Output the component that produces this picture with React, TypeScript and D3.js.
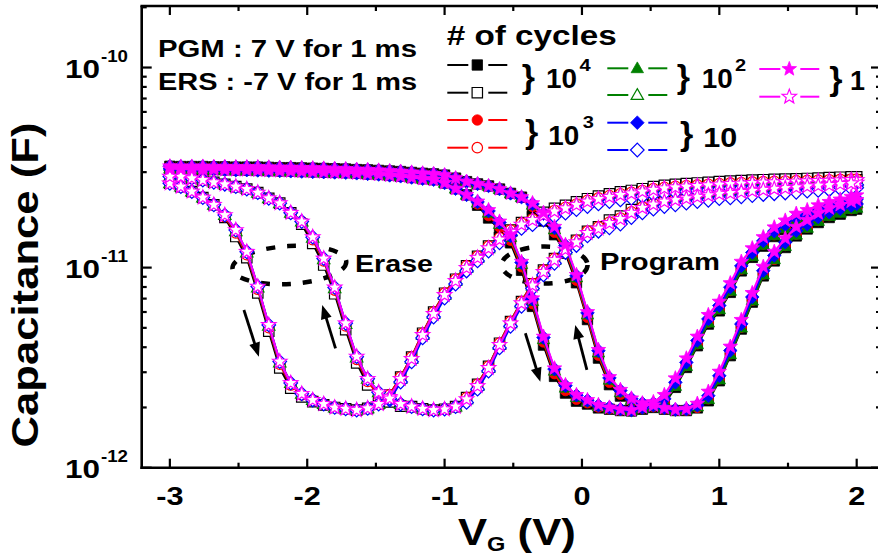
import React from 'react';
import * as d3 from 'd3';

// Gate voltage sweep grid (V)
const VG = [-3, -2.92, -2.84, -2.76, -2.68, -2.6, -2.52, -2.44, -2.36, -2.28, -2.2, -2.12, -2.04, -1.96, -1.88, -1.8,
  -1.72, -1.64, -1.56, -1.48, -1.4, -1.32, -1.24, -1.16, -1.08, -1, -0.92, -0.84, -0.76, -0.68, -0.6, -0.52,
  -0.44, -0.36, -0.28, -0.2, -0.12, -0.04, 0.04, 0.12, 0.2, 0.28, 0.36, 0.44, 0.52, 0.6, 0.68, 0.76,
  0.84, 0.92, 1, 1.08, 1.16, 1.24, 1.32, 1.4, 1.48, 1.56, 1.64, 1.72, 1.8, 1.88, 1.96, 2];

// Capacitance values in pF (1 pF = 1e-12 F)
// Program state (filled symbols): forward sweep (-3 -> 2) and reverse sweep (2 -> -3, stored on the same VG grid)
const PGM_FWD_1E4 = [31.2, 31.1, 31.0, 30.9, 30.9, 30.8, 30.7, 30.7, 30.6, 30.5, 30.4, 30.3, 30.2, 30.1, 30.0, 29.9, 29.8, 29.6, 29.4, 29.2, 28.9, 28.6, 28.2, 27.8, 27.5, 26.5, 24.8, 23.1,
  20.5, 17.7, 15.5, 13.3, 9.7, 6.4, 4.1, 2.86, 2.36, 2.15, 2.08, 1.99, 1.96, 1.93, 1.92, 1.96, 2.02, 2.08, 2.52, 3.17, 4.07, 5.22, 6.08, 7.52, 9.63, 11.25, 12.8, 14.3, 15.5, 16.7, 17.5, 18.5, 19.2, 19.7, 20.3, 20.7];
const PGM_FWD_1E3 = [31.2, 31.1, 31.0, 30.9, 30.9, 30.8, 30.7, 30.7, 30.6, 30.5, 30.4, 30.3, 30.2, 30.1, 30.0, 29.9, 29.8, 29.6, 29.4, 29.2, 28.9, 28.6, 28.2, 27.8, 27.5, 26.5, 24.8, 23.1,
  20.8, 18.2, 16.0, 13.7, 10.1, 6.6, 4.25, 2.95, 2.43, 2.2, 2.11, 2.01, 1.97, 1.94, 1.93, 1.98, 2.05, 2.13, 2.58, 3.24, 4.16, 5.34, 6.22, 7.69, 9.84, 11.5, 13.1, 14.6, 15.8, 17.1, 17.8, 18.9, 19.6, 20.1, 20.8, 21.2];
const PGM_FWD_1E2 = [31.2, 31.1, 31.0, 30.9, 30.9, 30.8, 30.7, 30.7, 30.6, 30.5, 30.4, 30.3, 30.2, 30.1, 30.0, 29.9, 29.8, 29.6, 29.4, 29.2, 28.9, 28.6, 28.2, 27.8, 27.5, 26.5, 24.8, 23.1,
  21.1, 18.8, 16.5, 14.2, 10.4, 6.8, 4.38, 3.05, 2.51, 2.25, 2.14, 2.03, 1.98, 1.95, 1.93, 1.98, 2.06, 2.12, 2.56, 3.22, 4.14, 5.31, 6.19, 7.65, 9.79, 11.4, 13.0, 14.5, 15.7, 17.0, 17.8, 18.8, 19.5, 20.0, 20.7, 21.0];
const PGM_FWD_10 = [31.2, 31.1, 31.0, 30.9, 30.9, 30.8, 30.7, 30.7, 30.6, 30.5, 30.4, 30.3, 30.2, 30.1, 30.0, 29.9, 29.8, 29.6, 29.4, 29.2, 28.9, 28.6, 28.2, 27.8, 27.5, 26.5, 24.8, 23.1,
  21.3, 19.2, 16.8, 14.5, 10.6, 6.96, 4.47, 3.11, 2.57, 2.30, 2.17, 2.05, 2.0, 1.96, 1.94, 2.0, 2.1, 2.21, 2.67, 3.36, 4.32, 5.54, 6.46, 7.98, 10.2, 11.9, 13.6, 15.2, 16.4, 17.8, 18.5, 19.6, 20.3, 20.9, 21.6, 22.0];
const PGM_FWD_1 = [31.2, 31.1, 31.0, 30.9, 30.9, 30.8, 30.7, 30.7, 30.6, 30.5, 30.4, 30.3, 30.2, 30.1, 30.0, 29.9, 29.8, 29.6, 29.4, 29.2, 28.9, 28.6, 28.2, 27.8, 27.5, 26.5, 24.8, 23.1,
  21.4, 19.4, 17.0, 14.6, 10.7, 7.03, 4.52, 3.14, 2.59, 2.31, 2.18, 2.06, 2.0, 1.96, 1.94, 2.01, 2.13, 2.31, 2.8, 3.52, 4.52, 5.8, 6.76, 8.36, 10.7, 12.5, 14.2, 15.9, 17.2, 18.6, 19.4, 20.5, 21.3, 21.9, 22.6, 23.0];

const PGM_REV_1E4 = [32.1, 32.0, 32.0, 32.0, 31.9, 31.9, 31.8, 31.8, 31.8, 31.7, 31.6, 31.6, 31.5, 31.4, 31.3, 31.2, 31.1, 30.9, 30.8, 30.6, 30.4, 30.2, 29.9, 29.6, 29.4, 29.0, 28.0, 26.9, 26.2, 25.6, 24.7, 23.5, 22.5,
  19.5, 17.1, 14.6, 11.8, 8.4, 5.5, 3.53, 2.6, 2.28, 2.12, 2.04, 2.0, 1.96, 1.93, 1.93, 1.99, 2.16, 2.72, 3.63, 4.93, 6.72, 9.09, 10.8, 12.6, 14.4, 15.6, 16.8, 17.8, 18.5, 19.3, 19.6];
const PGM_REV_1E3 = [32.1, 32.0, 32.0, 32.0, 31.9, 31.9, 31.8, 31.8, 31.8, 31.7, 31.6, 31.6, 31.5, 31.4, 31.3, 31.2, 31.1, 30.9, 30.8, 30.6, 30.4, 30.2, 29.9, 29.6, 29.4, 29.0, 28.0, 26.9, 26.2, 25.6, 24.7, 23.5, 22.5,
  20.2, 17.7, 15.0, 12.2, 8.65, 5.64, 3.65, 2.67, 2.33, 2.15, 2.06, 2.02, 1.97, 1.94, 1.94, 2.0, 2.21, 2.78, 3.71, 5.04, 6.87, 9.29, 11.0, 12.9, 14.7, 15.9, 17.2, 18.2, 19.0, 19.7, 20.1];
const PGM_REV_1E2 = [32.1, 32.0, 32.0, 32.0, 31.9, 31.9, 31.8, 31.8, 31.8, 31.7, 31.6, 31.6, 31.5, 31.4, 31.3, 31.2, 31.1, 30.9, 30.8, 30.6, 30.4, 30.2, 29.9, 29.6, 29.4, 29.0, 28.0, 26.9, 26.2, 25.6, 24.7, 23.5, 22.5,
  20.6, 18.2, 15.5, 12.6, 8.92, 5.82, 3.76, 2.75, 2.38, 2.18, 2.08, 2.03, 1.98, 1.94, 1.95, 2.02, 2.2, 2.76, 3.69, 5.01, 6.84, 9.24, 11.0, 12.8, 14.6, 15.8, 17.1, 18.1, 18.8, 19.6, 19.9];
const PGM_REV_10 = [32.1, 32.0, 32.0, 32.0, 31.9, 31.9, 31.8, 31.8, 31.8, 31.7, 31.6, 31.6, 31.5, 31.4, 31.3, 31.2, 31.1, 30.9, 30.8, 30.6, 30.4, 30.2, 29.9, 29.6, 29.4, 29.0, 28.0, 26.9, 26.2, 25.6, 24.7, 23.5, 22.5,
  20.8, 18.6, 15.8, 12.9, 9.1, 5.94, 3.84, 2.81, 2.43, 2.21, 2.1, 2.05, 1.99, 1.95, 1.96, 2.05, 2.29, 2.88, 3.85, 5.23, 7.13, 9.65, 11.5, 13.4, 15.3, 16.5, 17.9, 18.9, 19.7, 20.4, 20.8];
const PGM_REV_1 = [32.1, 32.0, 32.0, 32.0, 31.9, 31.9, 31.8, 31.8, 31.8, 31.7, 31.6, 31.6, 31.5, 31.4, 31.3, 31.2, 31.1, 30.9, 30.8, 30.6, 30.4, 30.2, 29.9, 29.6, 29.4, 29.0, 28.0, 26.9, 26.2, 25.6, 24.7, 23.5, 22.5,
  21.0, 18.8, 16.0, 13.0, 9.2, 6.0, 3.88, 2.84, 2.45, 2.22, 2.10, 2.05, 1.99, 1.95, 1.97, 2.09, 2.4, 3.02, 4.03, 5.48, 7.47, 10.1, 12.0, 14.0, 16.0, 17.3, 18.7, 19.8, 20.6, 21.4, 21.8];

// Erase state (open symbols)
const ERS_FWD_1E4 = [26.4, 25.4, 24.0, 22.4, 20.6, 17.8, 14.3, 11.2, 7.48, 4.81, 3.15, 2.5, 2.26, 2.14, 2.06, 2.0, 1.97, 1.94, 1.98, 2.08,
  2.31, 2.84, 3.57, 4.7, 5.99, 7.45, 8.75, 10.2, 11.4, 12.8, 14.1, 15.4, 16.8, 17.9, 18.9, 19.8, 20.5, 21.3, 22.1, 22.8, 23.4, 23.9, 24.3, 24.8, 25.4, 25.8, 26.1, 26.3, 26.5, 26.7, 26.9, 27.1, 27.2, 27.4, 27.5, 27.6, 27.7, 27.8, 27.9, 28.0, 28.2, 28.3, 28.4, 28.4];
const ERS_FWD_1E3 = [26.4, 25.4, 24.0, 22.4, 20.6, 18.0, 14.9, 11.6, 7.8, 5.01, 3.29, 2.59, 2.31, 2.18, 2.08, 2.0, 1.97, 1.94, 1.98, 2.08,
  2.31, 2.84, 3.57, 4.7, 5.99, 7.45, 8.75, 10.2, 11.4, 12.8, 14.1, 15.4, 16.7, 17.5, 18.5, 19.3, 20.0, 20.8, 21.7, 22.3, 22.9, 23.4, 23.8, 24.3, 24.8, 25.2, 25.5, 25.7, 25.9, 26.1, 26.3, 26.5, 26.6, 26.8, 26.9, 27.0, 27.1, 27.2, 27.3, 27.4, 27.5, 27.6, 27.7, 27.7];
const ERS_FWD_1E2 = [26.4, 25.4, 24.0, 22.4, 20.6, 18.3, 15.2, 11.9, 7.96, 5.12, 3.36, 2.65, 2.34, 2.18, 2.08, 2.0, 1.97, 1.94, 1.98, 2.08,
  2.26, 2.78, 3.5, 4.61, 5.87, 7.3, 8.58, 9.97, 11.2, 12.5, 13.8, 15.1, 16.4, 17.3, 18.3, 19.1, 19.8, 20.6, 21.4, 22.0, 22.6, 23.1, 23.5, 24.0, 24.5, 24.9, 25.2, 25.4, 25.6, 25.8, 26.0, 26.2, 26.3, 26.5, 26.6, 26.7, 26.8, 26.9, 27.0, 27.1, 27.2, 27.3, 27.4, 27.4];
const ERS_FWD_10 = [26.4, 25.4, 24.0, 22.4, 20.6, 18.3, 15.4, 12.0, 8.04, 5.17, 3.39, 2.65, 2.34, 2.18, 2.08, 2.0, 1.97, 1.94, 1.98, 2.08,
  2.18, 2.68, 3.38, 4.45, 5.66, 7.04, 8.28, 9.62, 10.8, 12.1, 13.3, 14.5, 15.7, 16.4, 17.3, 18.0, 18.7, 19.5, 20.2, 20.8, 21.4, 21.8, 22.2, 22.7, 23.2, 23.5, 23.8, 24.0, 24.2, 24.4, 24.6, 24.8, 24.9, 25.0, 25.1, 25.2, 25.3, 25.4, 25.5, 25.6, 25.7, 25.8, 25.9, 25.9];
const ERS_FWD_1 = [26.4, 25.4, 24.0, 22.4, 20.6, 18.3, 15.4, 12.0, 8.04, 5.17, 3.39, 2.65, 2.34, 2.18, 2.08, 2.0, 1.97, 1.94, 1.98, 2.08,
  2.26, 2.78, 3.5, 4.61, 5.87, 7.3, 8.58, 9.97, 11.2, 12.5, 13.8, 15.1, 16.4, 17.3, 18.3, 19.1, 19.8, 20.6, 21.4, 22.0, 22.6, 23.1, 23.5, 24.0, 24.5, 24.9, 25.2, 25.4, 25.6, 25.8, 26.0, 26.2, 26.3, 26.5, 26.6, 26.7, 26.8, 26.9, 27.0, 27.1, 27.2, 27.3, 27.4, 27.4];

const ERS_REV_1E4 = [28.5, 28.5, 28.0, 27.4, 26.7, 26.1, 25.4, 24.7, 23.7, 22.2, 21.0, 18.8, 16.5, 13.2, 10.3, 7.4, 4.9, 3.34, 2.59, 2.24, 2.13, 2.03, 2.02, 1.97, 1.94, 1.96, 2.02,
  2.24, 2.61, 3.21, 4.19, 5.38, 6.77, 8.31, 9.71, 11.1, 12.5, 13.7, 15.2, 16.0, 17.3, 18.1, 19.5, 20.6, 21.4, 22.1, 22.6, 23.0, 23.4, 23.8, 24.2, 24.4, 24.7, 25.0, 25.4, 25.7, 25.9, 26.1, 26.4, 26.6, 26.8, 27.1, 27.3, 27.5];
const ERS_REV_1E3 = [28.5, 28.5, 28.0, 27.4, 26.7, 26.1, 25.4, 24.7, 23.7, 22.2, 21.0, 18.8, 17.0, 13.8, 10.8, 7.72, 5.11, 3.48, 2.7, 2.31, 2.22, 2.08, 2.02, 1.97, 1.94, 1.96, 2.02,
  2.24, 2.61, 3.21, 4.19, 5.38, 6.77, 8.31, 9.71, 11.1, 12.5, 13.7, 15.2, 16.0, 16.9, 17.7, 19.0, 20.1, 20.9, 21.7, 22.1, 22.5, 22.9, 23.3, 23.7, 23.9, 24.2, 24.5, 24.8, 25.1, 25.3, 25.5, 25.8, 26.0, 26.2, 26.5, 26.7, 26.9];
const ERS_REV_1E2 = [28.5, 28.5, 28.0, 27.4, 26.7, 26.1, 25.4, 24.7, 23.7, 22.2, 21.0, 18.8, 17.0, 14.1, 11.0, 7.88, 5.22, 3.55, 2.78, 2.38, 2.22, 2.08, 2.02, 1.97, 1.94, 1.96, 2.02,
  2.2, 2.56, 3.15, 4.11, 5.27, 6.64, 8.15, 9.52, 10.9, 12.3, 13.4, 14.9, 15.7, 16.7, 17.5, 18.8, 19.9, 20.7, 21.4, 21.8, 22.2, 22.6, 23.0, 23.4, 23.6, 23.9, 24.2, 24.5, 24.8, 25.0, 25.2, 25.5, 25.7, 25.9, 26.2, 26.4, 26.6];
const ERS_REV_10 = [28.5, 28.5, 28.0, 27.4, 26.7, 26.1, 25.4, 24.7, 23.7, 22.2, 21.0, 18.8, 17.0, 14.2, 11.1, 7.96, 5.27, 3.59, 2.78, 2.38, 2.22, 2.08, 2.02, 1.97, 1.94, 1.96, 2.02,
  2.12, 2.47, 3.04, 3.97, 5.09, 6.41, 7.86, 9.19, 10.5, 11.9, 12.9, 14.4, 15.2, 15.8, 16.5, 17.8, 18.8, 19.6, 20.2, 20.6, 21.0, 21.4, 21.7, 22.1, 22.3, 22.6, 22.9, 23.2, 23.4, 23.6, 23.8, 24.1, 24.3, 24.5, 24.8, 24.9, 25.1];
const ERS_REV_1 = [28.5, 28.5, 28.0, 27.4, 26.7, 26.1, 25.4, 24.7, 23.7, 22.2, 21.0, 18.8, 17.0, 14.2, 11.1, 7.96, 5.27, 3.59, 2.78, 2.38, 2.22, 2.08, 2.02, 1.97, 1.94, 1.96, 2.02,
  2.2, 2.56, 3.15, 4.11, 5.27, 6.64, 8.15, 9.52, 10.9, 12.3, 13.4, 14.9, 15.7, 16.7, 17.5, 18.8, 19.9, 20.7, 21.4, 21.8, 22.2, 22.6, 23.0, 23.4, 23.6, 23.9, 24.2, 24.5, 24.8, 25.0, 25.2, 25.5, 25.7, 25.9, 26.2, 26.4, 26.6];

const CYCLE_LABELS = ['10^4', '10^3', '10^2', '10', '1'];
const CYCLE_COLORS = ['#000000', '#FF0000', '#008000', '#0000FF', '#FF00FF'];
const CYCLE_SHAPES = ['square', 'circle', 'triangle', 'diamond', 'star'];
const PGM_FWD = [PGM_FWD_1E4, PGM_FWD_1E3, PGM_FWD_1E2, PGM_FWD_10, PGM_FWD_1];
const PGM_REV = [PGM_REV_1E4, PGM_REV_1E3, PGM_REV_1E2, PGM_REV_10, PGM_REV_1];
const ERS_FWD = [ERS_FWD_1E4, ERS_FWD_1E3, ERS_FWD_1E2, ERS_FWD_10, ERS_FWD_1];
const ERS_REV = [ERS_REV_1E4, ERS_REV_1E3, ERS_REV_1E2, ERS_REV_10, ERS_REV_1];

const X_MAJOR = [-3, -2, -1, 0, 1, 2];
const X_MINOR = [-2.5, -1.5, -0.5, 0.5, 1.5];
const Y_DECADES = [1, 10, 100];
const Y_EXPONENTS = ['-12', '-11', '-10'];

const W = 878;
const H = 556;
const LEFT = 141.7;
const RIGHT = 881;
const TOP = 6;
const BOTTOM = 467.7;
const FONT = '"Liberation Sans", Arial, Helvetica, sans-serif';

const x = d3.scaleLinear().domain([-3.205, 2.177]).range([LEFT, RIGHT]);
const y = d3.scaleLog().domain([1, 203]).range([BOTTOM, TOP]);

function starPath(R: number, r: number) {
  const pts = d3.range(10).map((i) => {
    const a = -Math.PI / 2 + (i * Math.PI) / 5;
    const rr = i % 2 === 0 ? R : r;
    return [rr * Math.cos(a), rr * Math.sin(a)];
  });
  return 'M' + pts.map((p) => p[0].toFixed(2) + ',' + p[1].toFixed(2)).join('L') + 'Z';
}

const SHAPE_PATHS: Record<string, string> = {
  square: 'M-5.2,-5.2H5.2V5.2H-5.2Z',
  circle: d3.symbol(d3.symbolCircle, 86)() as string,
  triangle: 'M0,-6.4L6.2,4.4L-6.2,4.4Z',
  diamond: 'M0,-6.8L6.8,0L0,6.8L-6.8,0Z',
  star: starPath(7.6, 3.2),
};

function Marker({ cx, cy, shape, color, open }: any) {
  return (
    <path
      d={SHAPE_PATHS[shape]}
      transform={`translate(${cx},${cy})`}
      fill={open ? '#FFFFFF' : color}
      stroke={color}
      strokeWidth={open ? 1.2 : 0.8}
    />
  );
}

function T({ x: tx, y: ty, size, children, anchor = 'start', len, sx = 1.18, rot, weight = 700 }: any) {
  const tr = `translate(${tx},${ty})` + (rot ? ` rotate(${rot})` : '') + (len ? '' : ` scale(${sx},1)`);
  return (
    <text
      transform={tr}
      fontSize={size}
      fontFamily={FONT}
      fontWeight={weight}
      textAnchor={anchor}
      textLength={len}
      lengthAdjust={len ? 'spacingAndGlyphs' : undefined}
      fill="#000"
    >
      {children}
    </text>
  );
}

function Series({ fwd, rev, color, shape, open }: any) {
  const n1 = Math.min(fwd.length, VG.length);
  const n2 = Math.min(rev.length, VG.length);
  const fPts = d3.range(n1).map((i) => [VG[i], fwd[i]]);
  const rPts = d3.range(n2).map((i) => [VG[i], rev[i]]);
  const loop = fPts.concat(rPts.slice().reverse());
  const line = d3.line<number[]>().x((d) => x(d[0])).y((d) => y(d[1]));
  return (
    <g>
      <path d={line(loop) as string} fill="none" stroke={color} strokeWidth={2.2} />
      {loop.map((d, i) => (
        <Marker key={i} cx={x(d[0])} cy={y(d[1])} shape={shape} color={color} open={open} />
      ))}
    </g>
  );
}

function Arrow({ from, to }: any) {
  const x1 = x(from[0]);
  const y1 = y(from[1]);
  const x2 = x(to[0]);
  const y2 = y(to[1]);
  const dx = x2 - x1;
  const dy = y2 - y1;
  const L = Math.hypot(dx, dy);
  const ux = dx / L;
  const uy = dy / L;
  const hl = 14;
  const hw = 5.5;
  const bx = x2 - ux * hl;
  const by = y2 - uy * hl;
  const px = -uy;
  const py = ux;
  return (
    <g>
      <line x1={x1} y1={y1} x2={bx + ux * 2} y2={by + uy * 2} stroke="#000" strokeWidth={2.8} />
      <path d={`M${x2},${y2}L${bx + px * hw},${by + py * hw}L${bx - px * hw},${by - py * hw}Z`} fill="#000" />
    </g>
  );
}

// annotation anchors in data units (V, pF)
const ERASE_ELLIPSE = { v: -2.13, c: 10.3, rx: 57, ry: 19, rot: -3.5 };
const PROGRAM_ELLIPSE = { v: -0.272, c: 10.3, rx: 43, ry: 18.5, rot: 0 };
const ARROWS = [
  { from: [-2.461, 6.14], to: [-2.352, 3.59] },
  { from: [-1.794, 3.95], to: [-1.891, 6.51] },
  { from: [-0.412, 4.7], to: [-0.303, 2.69] },
  { from: [0.036, 3.08], to: [-0.049, 5.17] },
];

function LegendItem({ x0, yy, color, shape, open }: any) {
  return (
    <g>
      <line x1={x0} x2={x0 + 21} y1={yy} y2={yy} stroke={color} strokeWidth={2} />
      <line x1={x0 + 41} x2={x0 + 60} y1={yy} y2={yy} stroke={color} strokeWidth={2} />
      <Marker cx={x0 + 30} cy={yy} shape={shape} color={color} open={open} />
    </g>
  );
}

export default function App() {
  const order = [0, 1, 2, 3, 4];
  const ellipse = (e: any, key: string) => (
    <ellipse
      key={key}
      cx={0}
      cy={0}
      rx={e.rx}
      ry={e.ry}
      transform={`translate(${x(e.v)},${y(e.c)}) rotate(${e.rot})`}
      fill="none"
      stroke="#000"
      strokeWidth={4.5}
      strokeDasharray="9 12"
    />
  );

  const legendCols = [
    { x0: 447.3, rows: [[0, 65, 92.7], [1, 120, 147.7]] },
    { x0: 607.3, rows: [[2, 68.3, 95], [3, 122.7, 150]] },
    { x0: 759.3, rows: [[4, 69, 96.7]] },
  ];

  const yMinor: number[] = [];
  [1, 10, 100].forEach((d) => {
    for (let k = 2; k <= 9; k++) {
      const v = d * k;
      if (v < 203) yMinor.push(v);
    }
  });

  return (
    <div style={{ position: 'absolute', left: 0, top: 0, width: W, height: H, overflow: 'hidden', background: '#fff' }}>
      <svg width={W} height={H} viewBox={`0 0 ${W} ${H}`} xmlns="http://www.w3.org/2000/svg">
        <rect x={0} y={0} width={W} height={H} fill="#FFFFFF" />

        {ellipse(ERASE_ELLIPSE, 'e1')}
        {ellipse(PROGRAM_ELLIPSE, 'e2')}

        {order.map((k) => (
          <g key={k}>
            <Series fwd={ERS_FWD[k]} rev={ERS_REV[k]} color={CYCLE_COLORS[k]} shape={CYCLE_SHAPES[k]} open={true} />
            <Series fwd={PGM_FWD[k]} rev={PGM_REV[k]} color={CYCLE_COLORS[k]} shape={CYCLE_SHAPES[k]} open={false} />
          </g>
        ))}

        {ARROWS.map((a, i) => (
          <Arrow key={i} from={a.from} to={a.to} />
        ))}

        <T x={355} y={271.7} size={24} len={78}>Erase</T>
        <T x={600} y={270} size={24} len={120}>Program</T>

        <T x={158} y={56.7} size={23.5} len={259}>PGM : 7 V for 1 ms</T>
        <T x={158} y={90} size={23.5} len={259}>ERS : -7 V for 1 ms</T>
        <T x={446.7} y={45} size={28} len={170}># of cycles</T>

        {legendCols.map((col, ci) =>
          col.rows.map((r) => (
            <g key={`${ci}-${r[0]}`}>
              <LegendItem x0={col.x0} yy={r[1]} color={CYCLE_COLORS[r[0]]} shape={CYCLE_SHAPES[r[0]]} open={false} />
              <LegendItem x0={col.x0} yy={r[2]} color={CYCLE_COLORS[r[0]]} shape={CYCLE_SHAPES[r[0]]} open={true} />
            </g>
          ))
        )}

        {/* braces and cycle labels */}
        <T x={521.7} y={88} size={34} sx={1}>{'}'}</T>
        <T x={546} y={88.3} size={28} len={31}>10</T>
        <T x={579.5} y={71} size={17}>4</T>

        <T x={525} y={143} size={34} sx={1}>{'}'}</T>
        <T x={548.3} y={145} size={28} len={31}>10</T>
        <T x={582.7} y={128} size={17}>3</T>

        <T x={676.7} y={88} size={34} sx={1}>{'}'}</T>
        <T x={701.7} y={88.3} size={28} len={31}>10</T>
        <T x={735} y={71} size={17}>2</T>

        <T x={680} y={145} size={34} sx={1}>{'}'}</T>
        <T x={703.3} y={146.7} size={28} len={34}>10</T>

        <T x={829.3} y={90} size={34} sx={1}>{'}'}</T>
        <T x={850} y={90} size={28} len={15}>1</T>

        {/* frame */}
        <g stroke="#000" strokeWidth={2.6} fill="none">
          <line x1={LEFT} x2={LEFT} y1={TOP} y2={BOTTOM + 1.3} />
          <line x1={LEFT - 1.3} x2={RIGHT} y1={BOTTOM} y2={BOTTOM} />
          <line x1={LEFT - 1.3} x2={RIGHT} y1={TOP} y2={TOP} />
          <line x1={RIGHT} x2={RIGHT} y1={TOP} y2={BOTTOM} />
        </g>
        <g stroke="#000" strokeWidth={2.2}>
          {X_MAJOR.map((v) => (
            <g key={'xm' + v}>
              <line x1={x(v)} x2={x(v)} y1={BOTTOM} y2={BOTTOM - 9} />
              <line x1={x(v)} x2={x(v)} y1={TOP} y2={TOP + 9} />
            </g>
          ))}
          {X_MINOR.map((v) => (
            <g key={'xn' + v}>
              <line x1={x(v)} x2={x(v)} y1={BOTTOM} y2={BOTTOM - 5} />
              <line x1={x(v)} x2={x(v)} y1={TOP} y2={TOP + 5} />
            </g>
          ))}
          {Y_DECADES.map((v) => (
            <g key={'ym' + v}>
              <line x1={LEFT} x2={LEFT + 10} y1={y(v)} y2={y(v)} />
              <line x1={RIGHT} x2={RIGHT - 10} y1={y(v)} y2={y(v)} />
            </g>
          ))}
          {yMinor.map((v) => (
            <g key={'yn' + v}>
              <line x1={LEFT} x2={LEFT + 5} y1={y(v)} y2={y(v)} />
              <line x1={RIGHT} x2={RIGHT - 5} y1={y(v)} y2={y(v)} />
            </g>
          ))}
        </g>

        {/* tick labels */}
        {X_MAJOR.map((v) => (
          <T key={'xl' + v} x={x(v)} y={505} size={26} anchor="middle">{String(v)}</T>
        ))}
        {Y_DECADES.map((v, i) => (
          <g key={'yl' + v}>
            <T x={100} y={y(v) + 10.6} size={26.5} anchor="end" len={35}>10</T>
            <T x={101} y={y(v) - 6} size={16} len={27}>{Y_EXPONENTS[i]}</T>
          </g>
        ))}

        {/* axis titles */}
        <text transform={`translate(458,545) scale(1.18,1)`} fontSize={37} fontFamily={FONT} fontWeight={700}>
          V<tspan fontSize={20} dy={6}>G</tspan>
          <tspan dy={-6}> (V)</tspan>
        </text>
        <T x={38} y={285} size={36} rot={-90} anchor="middle" len={325}>Capacitance (F)</T>
      </svg>
    </div>
  );
}
